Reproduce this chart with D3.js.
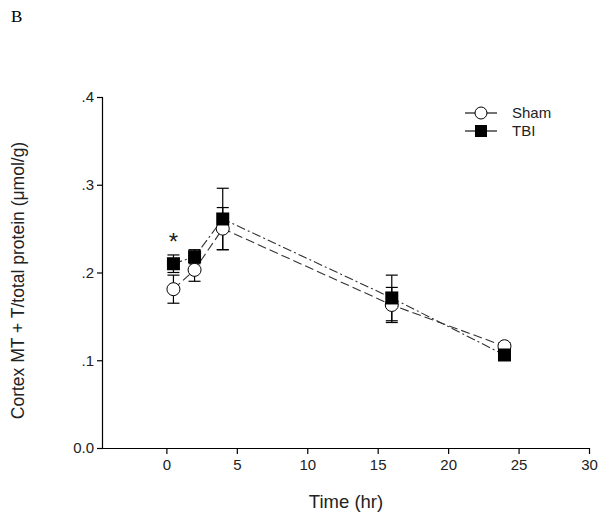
<!DOCTYPE html>
<html><head><meta charset="utf-8">
<script src="https://cdn.jsdelivr.net/npm/d3@7/dist/d3.min.js"></script>
<style>body{margin:0;background:#fff}svg{display:block}</style>
</head><body>
<script>
const times = [0.5, 2, 4, 16, 24];
const shamMean = [0.181, 0.203, 0.250, 0.163, 0.116];
const shamErr  = [0.016, 0.013, 0.024, 0.020, 0.004];
const tbiMean  = [0.210, 0.218, 0.261, 0.171, 0.106];
const tbiErr   = [0.010, 0.008, 0.035, 0.026, 0.004];
const xTicks = [0, 5, 10, 15, 20, 25, 30];
const yTicks = [0, 0.1, 0.2, 0.3, 0.4];
const yTickLabels = ["0.0", ".1", ".2", ".3", ".4"];

const W = 602, H = 517;
const svg = d3.select("body").append("svg").attr("width", W).attr("height", H);
const x = d3.scaleLinear().domain([-4.5, 30]).range([103, 589]);
const y = d3.scaleLinear().domain([0, 0.4]).range([448, 97]);
const font = "Liberation Sans, Arial, sans-serif";

svg.append("text").attr("x", 11).attr("y", 22).attr("font-family", "Liberation Serif, Times New Roman, serif")
  .attr("font-size", 17).text("B");

// axes
const xAxis = svg.append("g").attr("transform", `translate(0,${y(0)})`)
  .call(d3.axisBottom(x).tickValues(xTicks).tickSize(6).tickPadding(5).tickFormat(d3.format("d")));
const yAxis = svg.append("g").attr("transform", `translate(${x(-4.5)},0)`)
  .call(d3.axisLeft(y).tickValues(yTicks).tickSize(6).tickPadding(3).tickFormat((d,i)=>yTickLabels[i]));
[xAxis, yAxis].forEach(g => {
  g.select(".domain").attr("stroke", "#000").attr("stroke-width", 1.2);
  g.selectAll(".tick line").attr("stroke", "#000").attr("stroke-width", 1.2);
  g.selectAll("text").attr("font-family", font).attr("font-size", 15).attr("fill", "#222");
});
xAxis.select(".domain").attr("d", `M${x(-4.5)},0.5H${x(30)}`);
yAxis.select(".domain").attr("d", `M-0.5,${y(0)}V${y(0.4)}`);

svg.append("text").attr("x", (x(-4.5)+x(30))/2).attr("y", 508).attr("text-anchor", "middle")
  .attr("font-family", font).attr("font-size", 18.5).attr("fill", "#222").text("Time (hr)");
svg.append("text").attr("transform", `translate(24,${(y(0)+y(0.4))/2 + 8}) rotate(-90)`)
  .attr("text-anchor", "middle").attr("font-family", font).attr("font-size", 17.5).attr("fill", "#222")
  .text("Cortex MT + T/total protein (\u03bcmol/g)");

const series = [
  {name: "Sham", mean: shamMean, err: shamErr, dash: "9,4", marker: "circle"},
  {name: "TBI", mean: tbiMean, err: tbiErr, dash: "9,3,2,3", marker: "square"}
];

series.forEach(s => {
  const pts = times.map((t, i) => [t, s.mean[i], s.err[i]]);
  svg.append("path").datum(pts)
    .attr("d", d3.line().x(d => x(d[0])).y(d => y(d[1])))
    .attr("fill", "none").attr("stroke", "#333").attr("stroke-width", 1.1).attr("stroke-dasharray", s.dash);
  const eb = svg.append("g");
  pts.forEach(d => {
    const cx = x(d[0]);
    eb.append("line").attr("x1", cx).attr("x2", cx).attr("y1", y(d[1]-d[2])).attr("y2", y(d[1]+d[2]))
      .attr("stroke", "#000").attr("stroke-width", 1.2);
    [d[1]-d[2], d[1]+d[2]].forEach(v => eb.append("line").attr("x1", cx-6).attr("x2", cx+6)
      .attr("y1", y(v)).attr("y2", y(v)).attr("stroke", "#000").attr("stroke-width", 1.2));
  });
});
series.forEach(s => {
  times.forEach((t, i) => {
    const cx = x(t), cy = y(s.mean[i]);
    if (s.marker === "circle")
      svg.append("circle").attr("cx", cx).attr("cy", cy).attr("r", 6.5).attr("fill", "#fff").attr("stroke", "#000").attr("stroke-width", 1);
    else
      svg.append("rect").attr("x", cx-6.5).attr("y", cy-6.5).attr("width", 13).attr("height", 13).attr("fill", "#000");
  });
});

svg.append("text").attr("x", x(0.5)).attr("y", y(0.226)).attr("text-anchor", "middle")
  .attr("font-family", font).attr("font-size", 24).attr("fill", "#222").text("*");

// legend
const leg = [{name:"Sham", marker:"circle", y:113}, {name:"TBI", marker:"square", y:131}];
leg.forEach(l => {
  svg.append("line").attr("x1", 465).attr("x2", 497).attr("y1", l.y).attr("y2", l.y).attr("stroke", "#000").attr("stroke-width", 1.1);
  if (l.marker === "circle")
    svg.append("circle").attr("cx", 481).attr("cy", l.y).attr("r", 6).attr("fill", "#fff").attr("stroke", "#000");
  else
    svg.append("rect").attr("x", 475).attr("y", l.y-6).attr("width", 12).attr("height", 12).attr("fill", "#000");
  svg.append("text").attr("x", 512).attr("y", l.y+5).attr("font-family", font).attr("font-size", 15).attr("fill", "#222").text(l.name);
});
</script>
</body></html>
